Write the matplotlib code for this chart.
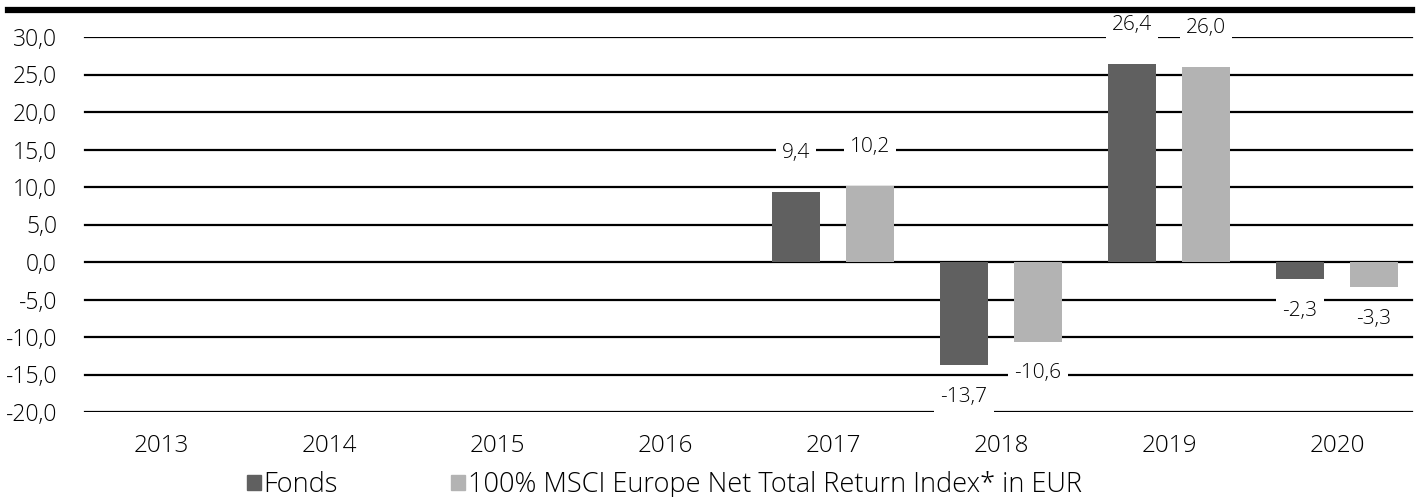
import numpy as np
from matplotlib import pyplot as plt
from matplotlib.lines import Line2D
from matplotlib.patches import Patch

years = ['2013', '2014', '2015', '2016', '2017', '2018', '2019', '2020']
fonds = [np.nan, np.nan, np.nan, np.nan, 9.4, -13.7, 26.4, -2.3]
index = [np.nan, np.nan, np.nan, np.nan, 10.2, -10.6, 26.0, -3.3]
series_names = ['Fonds', '100% MSCI Europe Net Total Return Index* in EUR']
colors = ['#606060', '#b3b3b3']
yticks = [-20, -15, -10, -5, 0, 5, 10, 15, 20, 25, 30]


def fmt(v):
    return f"{v:.1f}".replace('.', ',')


plt.rcParams['font.family'] = ['Open Sans', 'DejaVu Sans']
plt.rcParams['font.weight'] = 'light'
plt.rcParams['font.size'] = 16.5

W, H = 1419, 497
ax_left, ax_width = 77, 1344
fig = plt.figure(figsize=(W / 100, H / 100), dpi=100)
ax = fig.add_axes([ax_left / W, 85 / H, ax_width / W, (412 - 37) / H])

x = np.arange(len(years))
offset = 0.22
width = 0.286

for yv in yticks:
    ax.axhline(yv, xmin=(85 - ax_left) / ax_width, xmax=(1412 - ax_left) / ax_width,
               color='black', lw=1.6, zorder=1)

for values, dx, color in [(fonds, -offset, colors[0]), (index, offset, colors[1])]:
    ax.bar(x + dx, values, width=width, color=color, zorder=2)
    for xi, v in zip(x, values):
        if np.isnan(v):
            continue
        dy = 28 if v > 0 else -23
        ax.annotate(fmt(v), (xi + dx, v), xytext=(0, dy), textcoords='offset points',
                    ha='center', va='center', annotation_clip=False, zorder=3, fontsize=15,
                    bbox=dict(boxstyle='square,pad=0.3', fc='white', ec='none'))

ax.set_xlim(-0.5, len(years) - 0.5)
ax.set_ylim(-20, 30)
ax.set_yticks(yticks)
ax.set_yticklabels([fmt(v) for v in yticks])
ax.set_xticks(x)
ax.set_xticklabels(years, fontsize=17.5)
ax.tick_params(axis='y', length=0, pad=14.4)
ax.tick_params(axis='x', length=0, pad=16)
for s in ax.spines.values():
    s.set_visible(False)

# thick rule at the top
fig.add_artist(Line2D([8 / W, 1412 / W], [1 - 10 / H] * 2, color='black', lw=4.5,
                      transform=fig.transFigure))

handles = [Patch(color=c) for c in colors]
fig.legend(handles, series_names, loc='center left', bbox_to_anchor=(247 / W, 1 - 485 / H),
           ncol=2, frameon=False, fontsize=19.5, handlelength=0.5, handleheight=0.5,
           handletextpad=0.1, columnspacing=4.2, borderaxespad=0, borderpad=0)

fig.savefig('out.png', dpi=100)
